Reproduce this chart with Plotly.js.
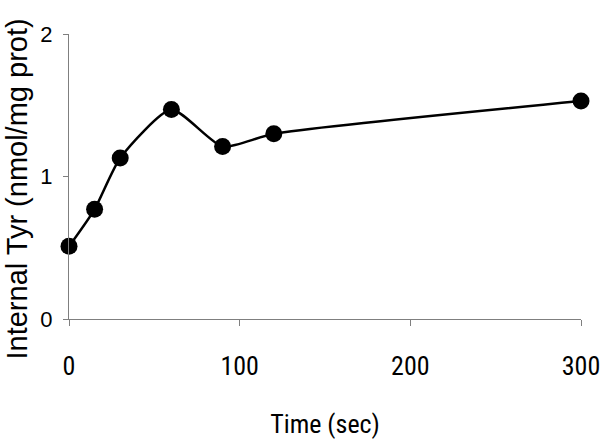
<!DOCTYPE html>
<html>
<head>
<meta charset="utf-8">
<script src="https://cdn.plot.ly/plotly-3.0.1.min.js"></script>
<style>
  html, body { margin: 0; padding: 0; background: #fff; }
  #chart { width: 600px; height: 445px; }
</style>
</head>
<body>
<div id="chart"></div>
<script>
// time points (sec) and internal tyrosine (nmol/mg prot)
const timeSec = [0, 15, 30, 60, 90, 120, 300];
const internalTyr = [0.51, 0.77, 1.13, 1.47, 1.21, 1.30, 1.53];

const xTicks = [0, 100, 200, 300];
const yTicks = [0, 1, 2];

const axisGrey = '#7f7f7f';
const sansFont = 'Arial';
const narrowFont = 'Roboto Condensed';

const trace = {
  x: timeSec,
  y: internalTyr,
  type: 'scatter',
  mode: 'lines+markers',
  line: { color: '#000', width: 2.5, shape: 'spline', smoothing: 0.6 },
  marker: { color: '#000', size: 17, symbol: 'circle' },
  cliponaxis: false,
  hoverinfo: 'x+y'
};

const layout = {
  width: 600,
  height: 445,
  margin: { l: 69, r: 19, t: 34, b: 126 },
  paper_bgcolor: '#fff',
  plot_bgcolor: '#fff',
  showlegend: false,
  font: { family: sansFont, color: '#000' },
  xaxis: {
    range: [0, 300],
    tickvals: xTicks,
    ticktext: xTicks.map(String),
    ticks: 'outside',
    ticklen: 6,
    tickcolor: axisGrey,
    tickwidth: 1,
    showline: true,
    linecolor: axisGrey,
    linewidth: 1,
    showgrid: false,
    zeroline: false,
    ticklabelstandoff: 18,
    ticklabeloverflow: 'allow',
    tickfont: { family: narrowFont, size: 26, color: '#000' },
    title: {
      text: 'Time (sec)',
      font: { family: narrowFont, size: 26, color: '#000' },
      standoff: 34
    }
  },
  yaxis: {
    range: [0, 2],
    tickvals: yTicks,
    ticktext: yTicks.map(String),
    ticks: 'outside',
    ticklen: 5,
    tickcolor: axisGrey,
    tickwidth: 1,
    showline: true,
    linecolor: axisGrey,
    linewidth: 1,
    showgrid: false,
    zeroline: false,
    ticklabelstandoff: 6,
    tickfont: { family: sansFont, size: 22, color: '#000' }
  },
  annotations: [{
    text: 'Internal Tyr (nmol/mg prot)',
    xref: 'paper', yref: 'paper',
    x: 0, y: 0.5,
    xanchor: 'center', yanchor: 'middle',
    xshift: -53, yshift: -13,
    textangle: -90,
    showarrow: false,
    font: { family: sansFont, size: 29, color: '#000' }
  }]
};

Plotly.newPlot('chart', [trace], layout, { displayModeBar: false, staticPlot: true });
</script>
</body>
</html>
